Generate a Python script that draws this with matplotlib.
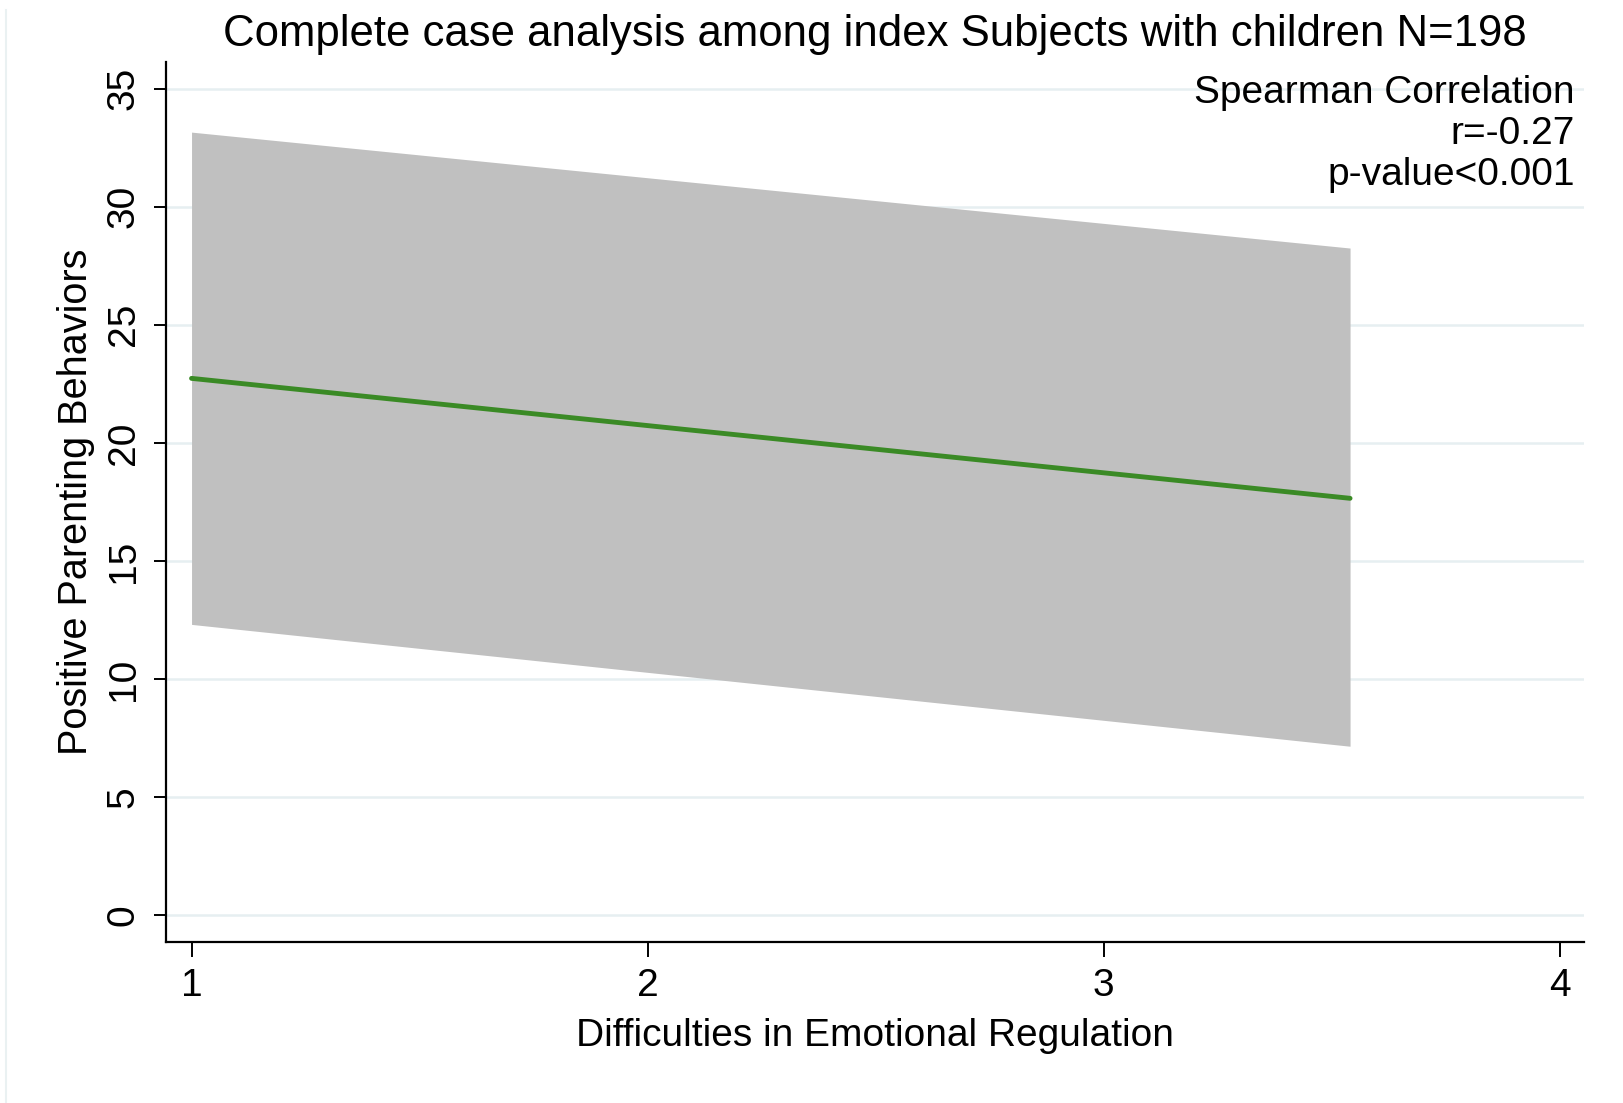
import matplotlib
matplotlib.use("Agg")
import matplotlib.pyplot as plt
from matplotlib.lines import Line2D

plt.rcParams["font.family"] = ["Liberation Sans", "DejaVu Sans"]

# Fitted regression line with its confidence band
x_fit = [1.0, 3.54]
y_fit = [22.73, 17.65]
y_lower = [12.31, 7.15]
y_upper = [33.16, 28.25]

x_ticks = [1, 2, 3, 4]
y_ticks = [0, 5, 10, 15, 20, 25, 30, 35]

title = "Complete case analysis among index Subjects with children N=198"
x_label = "Difficulties in Emotional Regulation"
y_label = "Positive Parenting Behaviors"
stats_lines = ["Spearman Correlation", "r=-0.27", "p-value<0.001"]

fig = plt.figure(figsize=(16.23, 11.03), dpi=100)
ax = fig.add_axes([0.1020, 0.1460, 0.8740, 0.7978])

# faint outer frame edge on the left of the graph region
fig.add_artist(Line2D([0.0037, 0.0037], [0.0, 0.991], transform=fig.transFigure,
                      color="#eaf1f2", linewidth=1.5))

ax.fill_between(x_fit, y_lower, y_upper, color="#c0c0c0", linewidth=0, zorder=2)
ax.plot(x_fit, y_fit, color="#3a8a25", linewidth=3.5, solid_capstyle="round", zorder=3)

ax.set_xlim(0.943, 4.053)
ax.set_ylim(-1.14, 36.13)
ax.set_xticks(x_ticks)
ax.set_yticks(y_ticks)
ax.yaxis.grid(True, color="#e6eff1", linewidth=1.8, zorder=0)
ax.set_axisbelow(True)

for side in ("top", "right"):
    ax.spines[side].set_visible(False)
for side in ("left", "bottom"):
    ax.spines[side].set_linewidth(1.6)
    ax.spines[side].set_color("black")

ax.tick_params(axis="x", direction="out", length=11, width=1.4, labelsize=28, pad=8)
ax.tick_params(axis="y", direction="out", length=9, width=1.4, labelsize=28, pad=8)
for lbl in ax.get_yticklabels():
    lbl.set_rotation(90)
    lbl.set_va("center")

ax.set_xlabel(x_label, fontsize=28, labelpad=10)
ax.set_ylabel(y_label, fontsize=28.5, labelpad=8)

fig.text(0.539, 0.969, title, ha="center", va="center", fontsize=31.5)

ax.text(0.9935, 0.985, "\n".join(stats_lines), transform=ax.transAxes,
        ha="right", va="top", fontsize=28, linespacing=1.17, multialignment="right")

fig.savefig("out.png", dpi=100, facecolor="white")
